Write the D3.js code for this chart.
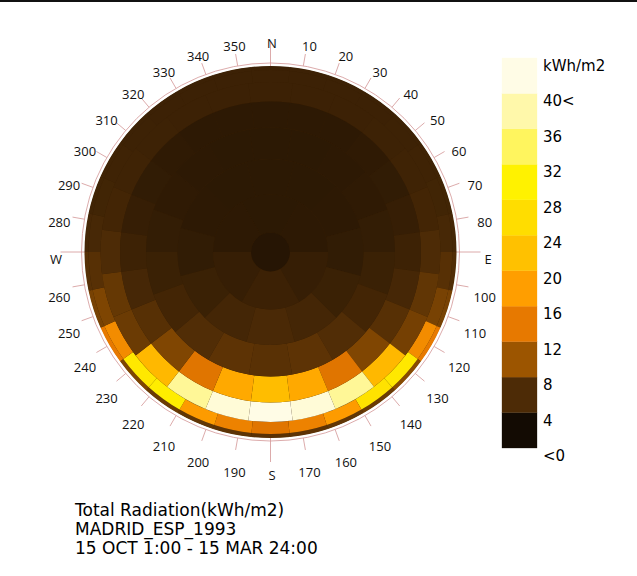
<!DOCTYPE html>
<meta charset="utf-8">
<title>Total Radiation - MADRID_ESP_1993</title>
<style>
body { margin: 0; background: #fff; }
.compass-circle { fill: none; stroke: #d39696; stroke-width: 0.8; }
.tick { stroke: #d39696; stroke-width: 0.8; }
.deg-label { font-family: "Open Sans", sans-serif; font-size: 13px; fill: #111; }
.legend-label { font-family: "DejaVu Sans", Verdana, sans-serif; font-size: 15px; fill: #000; }
.title { font-family: "DejaVu Sans", Verdana, sans-serif; font-size: 17px; fill: #000; }
</style>
<body>
<script src="https://d3js.org/d3.v7.min.js"></script>
<script>

// Tregenza sky patches, values in kWh/m2, patch i centred at azimuth i*360/n
var row1 = [4.8,4.8,4.8,4.8,4.9,5.0,5.2,5.5,6.2,8.2,14,9,7.5,7,6.8,6.6,6.8,7,7.5,8.5,14,8.2,6.5,5.5,5.1,5.0,4.9,4.8,4.8,4.8];
var row2 = [4.8,4.8,4.8,4.8,4.9,5.0,5.2,5.6,6.5,8.2,16,28,27,17.7,15,13.6,15,17.7,29,28,16,8.5,6.5,5.6,5.2,5.0,4.9,4.8,4.8,4.8];
var row3 = [4.8,4.8,4.8,4.9,5.0,5.3,6.0,7.0,8,21,37,41,42,41,37,21,7.5,7.2,6.0,5.3,5.0,4.9,4.8,4.8];
var row4 = [3.8,3.8,3.8,3.9,4.1,4.4,4.9,5.5,6.5,8.6,13.6,19.3,21.5,19.3,13.6,8.6,6.5,5.5,4.9,4.4,4.1,3.9,3.8,3.8];
var row5 = [3.7,3.7,3.8,3.9,4.2,4.7,5.3,6.2,6.8,6.6,6.8,6.2,5.3,4.7,4.2,3.9,3.8,3.7];
var row6 = [3.7,3.7,3.8,4.1,4.7,5.4,5.8,5.4,4.7,4.1,3.8,3.7];
var row7 = [3.7,3.8,4.4,4.8,4.4,3.8];
var zenith = [3.3];

// altitude bands of each row (degrees)
var rowAlts = [[0,12],[12,24],[24,36],[36,48],[48,60],[60,72],[72,84],[84,90]];

// legend
var legendColors = ["#130b03","#4d2b06","#9c5500","#e77900","#ff9e00","#ffc100","#ffdd00","#fff200","#fff55e","#fff8aa","#fffce6"];
var legendTicks = [44,40,36,32,28,24,20,16,12,8,4,0];
var legendLabels = ["kWh/m2","40<","36","32","28","24","20","16","12","8","4","<0"];

// compass
var degLabels = d3.range(0, 360, 10);
var cardinals = {0: "N", 90: "E", 180: "S", 270: "W"};

var titleLines = ["Total Radiation(kWh/m2)", "MADRID_ESP_1993", "15 OCT 1:00 - 15 MAR 24:00"];

var width = 637, height = 576;
var cx = 270.5, cy = 252, R = 186;

var svg = d3.select("body").append("svg")
    .attr("width", width)
    .attr("height", height);

svg.append("rect").attr("x", 0).attr("y", 0).attr("width", width).attr("height", 2).attr("fill", "#111");

var rad = d3.scaleLinear().domain([0, 1]).range([0, R]);
function ringR(alt) { return rad(Math.cos(alt * Math.PI / 180)); }

var color = d3.scaleLinear()
    .domain(legendColors.map(function(c, i) { return i * 4 + 2; }))
    .range(legendColors)
    .clamp(true);

// compass
var g = svg.append("g").attr("transform", "translate(" + cx + "," + cy + ")");
g.append("circle").attr("class", "compass-circle").attr("r", R + 3);

degLabels.forEach(function(d) {
  var a = d * Math.PI / 180;
  var r0 = cardinals[d] ? 150 : R + 3, r1 = cardinals[d] ? 210 : 201;
  g.append("line").attr("class", "tick")
    .attr("x1", r0 * Math.sin(a)).attr("y1", -r0 * Math.cos(a))
    .attr("x2", r1 * Math.sin(a)).attr("y2", -r1 * Math.cos(a));
  g.append("text").attr("class", "deg-label")
    .attr("x", 1.5 + 216 * Math.sin(a))
    .attr("y", 7 - 216 * Math.cos(a))
    .attr("text-anchor", "middle")
    .attr("dominant-baseline", "central")
    .text(cardinals[d] || d);
});

// dome
var arc = d3.arc();
var rows = [row1, row2, row3, row4, row5, row6, row7];
var dome = g.append("g");
dome.append("circle").attr("r", R - 0.5).attr("fill", color(4.6));
rows.forEach(function(vals, k) {
  var n = vals.length, step = 2 * Math.PI / n;
  vals.forEach(function(v, i) {
    dome.append("path")
      .attr("d", arc({
        innerRadius: ringR(rowAlts[k][1]),
        outerRadius: ringR(rowAlts[k][0]),
        startAngle: i * step - step / 2,
        endAngle: i * step + step / 2
      }))
      .attr("fill", color(v));
  });
});
dome.append("circle")
  .attr("r", ringR(rowAlts[7][0]))
  .attr("fill", color(zenith[0]));

// legend
var ly = d3.scaleLinear().domain([0, 44]).range([448, 58]);
var legend = svg.append("g");
legendColors.forEach(function(c, i) {
  legend.append("rect")
    .attr("x", 502).attr("width", 35)
    .attr("y", ly(i * 4 + 4)).attr("height", ly(i * 4) - ly(i * 4 + 4))
    .attr("fill", c).attr("stroke", c).attr("stroke-width", 0.3);
});
legendTicks.forEach(function(t, i) {
  legend.append("text").attr("class", "legend-label")
    .attr("x", 543).attr("y", ly(t) + 13)
    .text(legendLabels[i]);
});

// title
titleLines.forEach(function(s, i) {
  svg.append("text").attr("class", "title")
    .attr("x", 75).attr("y", 516 + i * 19)
    .text(s);
});

</script>
